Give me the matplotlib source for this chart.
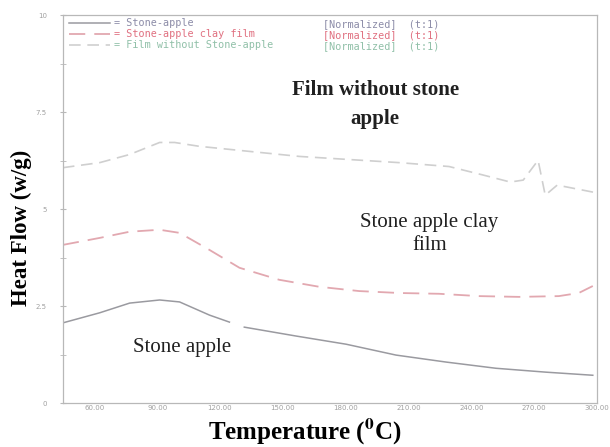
import matplotlib
matplotlib.use("Agg")
import matplotlib.pyplot as plt
import numpy as np

plt.rcParams["mathtext.fontset"] = "stix"

# temperatures (C) and heat flow (w/g)
temp_stone = [45.0, 62.6, 76.9, 91.2, 100.7, 115.0, 124.5, 125.5,
              131.6, 156.4, 180.2, 204.0, 227.9, 251.7, 275.5, 297.9]
flow_stone = [2.07, 2.33, 2.58, 2.66, 2.61, 2.27, 2.09, np.nan,
              1.96, 1.73, 1.52, 1.24, 1.06, 0.90, 0.80, 0.72]

temp_clay = [45.0, 62.6, 76.9, 91.2, 100.7, 115.0, 129.3, 148.3, 167.4,
             186.4, 205.5, 224.5, 243.6, 262.6, 281.7, 291.2, 297.9]
flow_clay = [4.08, 4.26, 4.42, 4.47, 4.39, 3.95, 3.49, 3.18, 3.00,
             2.89, 2.84, 2.82, 2.76, 2.74, 2.76, 2.84, 3.02]

temp_film = [45.0, 62.6, 76.9, 91.2, 98.3, 110.2, 134.0, 157.9, 181.7,
             205.5, 229.3, 245.6, 258.5, 264.7, 271.8, 275.2, 280.9,
             285.7, 293.3, 298.0]
flow_film = [6.07, 6.20, 6.41, 6.72, 6.72, 6.62, 6.49, 6.36, 6.28,
             6.20, 6.10, 5.88, 5.70, 5.75, 6.26, 5.36, 5.62,
             5.57, 5.49, 5.44]

names = ["= Stone-apple", "= Stone-apple clay film", "= Film without Stone-apple"]
name_colors = ["#8c8ca8", "#e07080", "#90c0a8"]

fig = plt.figure(figsize=(6.1, 4.47), dpi=100)
ax = fig.add_axes([0.103, 0.098, 0.876, 0.868])

ax.plot(temp_stone, flow_stone, color="#9a9aa0", lw=1.1, label=names[0])
ax.plot(temp_clay, flow_clay, color="#e2a8b0", lw=1.3, dashes=(9, 5), label=names[1])
ax.plot(temp_film, flow_film, color="#cfcfcf", lw=1.2, dashes=(7, 4), label=names[2])

ax.set_xlim(45, 300)
ax.set_ylim(0, 10)
ax.set_xticks(np.arange(60, 301, 30))
ax.set_xticklabels(["%.2f" % v for v in np.arange(60, 301, 30)])
ax.set_yticks([0, 2.5, 5, 7.5, 10])
ax.set_yticklabels(["0", "2.5", "5", "7.5", "10"])
ax.set_yticks(np.arange(0, 10.1, 1.25), minor=True)
ax.tick_params(axis="both", colors="#b8b8b8", labelcolor="#a0a0a0", labelsize=5,
               direction="inout", length=5, width=0.8)
ax.tick_params(axis="y", which="minor", colors="#b8b8b8", direction="inout", length=4)
ax.tick_params(axis="x", pad=1, length=0)
ax.tick_params(axis="y", pad=9)
for s in ax.spines.values():
    s.set_color("#b8b8b8")
    s.set_linewidth(0.9)

leg = ax.legend(loc="upper left", frameon=False, handlelength=4,
                prop={"family": "DejaVu Sans Mono", "size": 7.3},
                labelspacing=0.1, borderaxespad=0.0, borderpad=0.1,
                handletextpad=0.4, bbox_to_anchor=(0.01, 0.995))
for t, c in zip(leg.get_texts(), name_colors):
    t.set_color(c)
for i, c in enumerate(name_colors):
    ax.text(0.487, 0.977 - i * 0.0285, "[Normalized]  (t:1)", transform=ax.transAxes,
            fontsize=7.3, family="DejaVu Sans Mono", color=c, va="center")

serif = "Liberation Serif"
ax.text(194, 7.7, "Film without stone\napple", ha="center", va="center",
        fontsize=15, family=serif, fontweight="bold", color="#202020", linespacing=1.6)
ax.text(220, 4.36, "Stone apple clay\nfilm", ha="center", va="center",
        fontsize=15, family=serif, color="#202020", linespacing=1.35)
ax.text(102, 1.44, "Stone apple", ha="center", va="center",
        fontsize=15, family=serif, color="#202020")

fig.text(0.035, 0.49, "Heat Flow (w/g)", rotation=90, ha="center", va="center",
         fontsize=16.5, family=serif, fontweight="bold")
fig.text(0.5, 0.034, "Temperature ($\\mathbf{^0}$C)", ha="center", va="center",
         fontsize=18, family=serif, fontweight="bold")

fig.savefig("out.png", dpi=100)
